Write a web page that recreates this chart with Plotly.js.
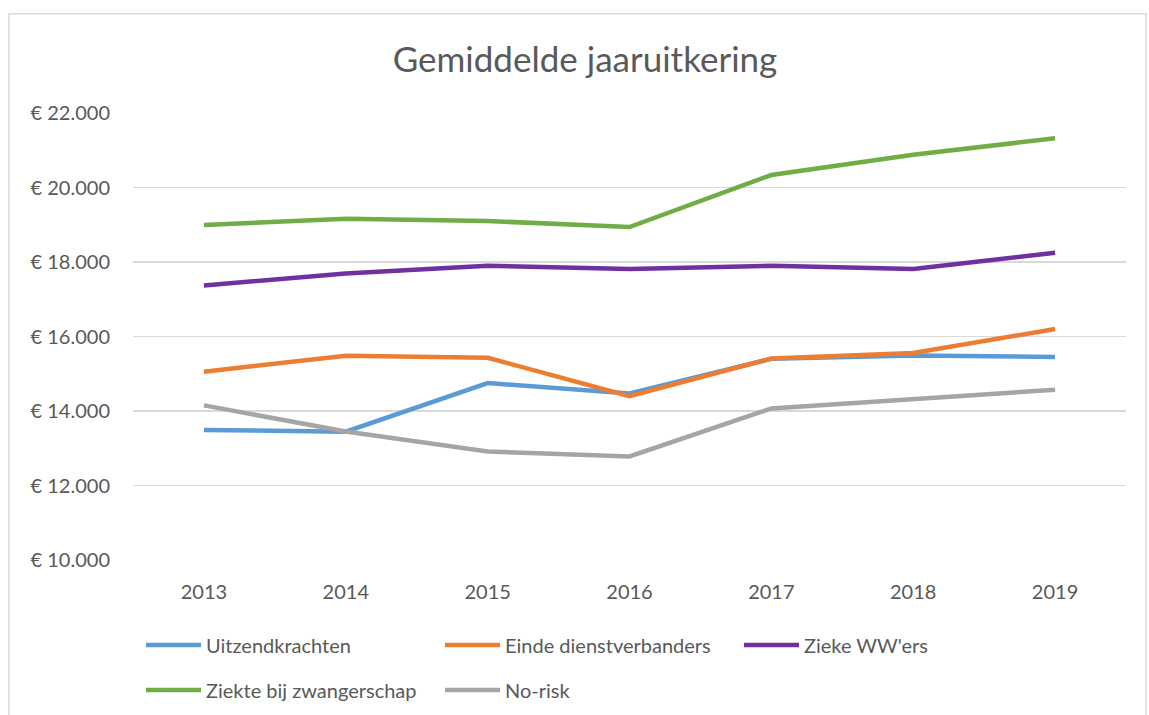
<!DOCTYPE html>
<html>
<head>
<meta charset="utf-8">
<script src="https://cdn.plot.ly/plotly-3.0.1.min.js"></script>
<style>
html,body{margin:0;padding:0;background:#fff;}
#chart{width:1149px;height:715px;}
</style>
</head>
<body>
<div id="chart"></div>
<script>
var years = ['2013','2014','2015','2016','2017','2018','2019'];
var uitzendkrachten = [13490, 13445, 14750, 14470, 15400, 15490, 15450];
var eindeDienstverbanders = [15055, 15485, 15430, 14400, 15410, 15555, 16200];
var ziekeWWers = [17370, 17690, 17900, 17810, 17900, 17810, 18250];
var ziekteZwangerschap = [18995, 19160, 19100, 18940, 20335, 20880, 21320];
var noRisk = [14150, 13450, 12915, 12780, 14070, 14320, 14570];
var seriesNames = ['Uitzendkrachten','Einde dienstverbanders',"Zieke WW'ers",'Ziekte bij zwangerschap','No-risk'];
var seriesColors = ['#5B9BD5','#ED7D31','#7030A0','#70AD47','#A5A5A5'];
var seriesLegend = ['legend','legend','legend','legend2','legend2'];
var yTickVals = [10000,12000,14000,16000,18000,20000,22000];
var yTickText = ['€ 10.000','€ 12.000','€ 14.000','€ 16.000','€ 18.000','€ 20.000','€ 22.000'];

var allSeries = [uitzendkrachten, eindeDienstverbanders, ziekeWWers, ziekteZwangerschap, noRisk];
var traces = allSeries.map(function(vals, i){
  return {
    x: years, y: vals, type: 'scatter', mode: 'lines', name: seriesNames[i],
    legend: seriesLegend[i],
    line: {color: seriesColors[i], width: 4.5}
  };
});

var font = 'Lato, "Open Sans", sans-serif';
var legendBase = {
  orientation: 'h', xanchor: 'left', yanchor: 'middle', xref: 'container', yref: 'container',
  font: {size: 20, color: '#595959'}, entrywidth: 229, entrywidthmode: 'pixels',
  itemwidth: 55, bgcolor: 'rgba(0,0,0,0)'
};
var legend1 = Object.assign({}, legendBase, {x: 141/1149, y: 1 - 645/715});
var legend2 = Object.assign({}, legendBase, {x: 141/1149, y: 1 - 690/715});

var layout = {
  width: 1149, height: 715,
  margin: {l: 133, r: 23, t: 113, b: 155, autoexpand: false},
  paper_bgcolor: '#fff', plot_bgcolor: '#fff',
  font: {family: font, color: '#595959', size: 20},
  title: {text: 'Gemiddelde jaaruitkering', font: {family: font, size: 35, color: '#595959'}, xref: 'container', x: 585/1149, xanchor: 'center', yref: 'container', y: 1 - 60/715, yanchor: 'middle'},
  xaxis: {
    type: 'category', range: [-0.5, 6.5], showgrid: false, zeroline: false, showline: false,
    ticks: '', tickfont: {size: 20, color: '#595959'}, ticklabelstandoff: 18
  },
  yaxis: {
    range: [10000, 22000], tickvals: yTickVals, ticktext: yTickText,
    showgrid: true, gridcolor: '#D9D9D9', gridwidth: 1.5, zeroline: false, showline: false,
    ticks: '', tickfont: {size: 20, color: '#595959'}, ticklabelstandoff: 22
  },
  showlegend: true,
  legend: legend1,
  legend2: legend2,
  shapes: [{
    type: 'rect', xref: 'paper', yref: 'paper',
    x0: (9-133)/993, x1: (1146-133)/993, y0: (560.3-720)/447, y1: 1 + (113.3-14)/447,
    line: {color: '#D9D9D9', width: 1.5}, fillcolor: 'rgba(0,0,0,0)', layer: 'below'
  }]
};

Plotly.newPlot('chart', traces, layout, {displayModeBar: false, staticPlot: true});
</script>
</body>
</html>
